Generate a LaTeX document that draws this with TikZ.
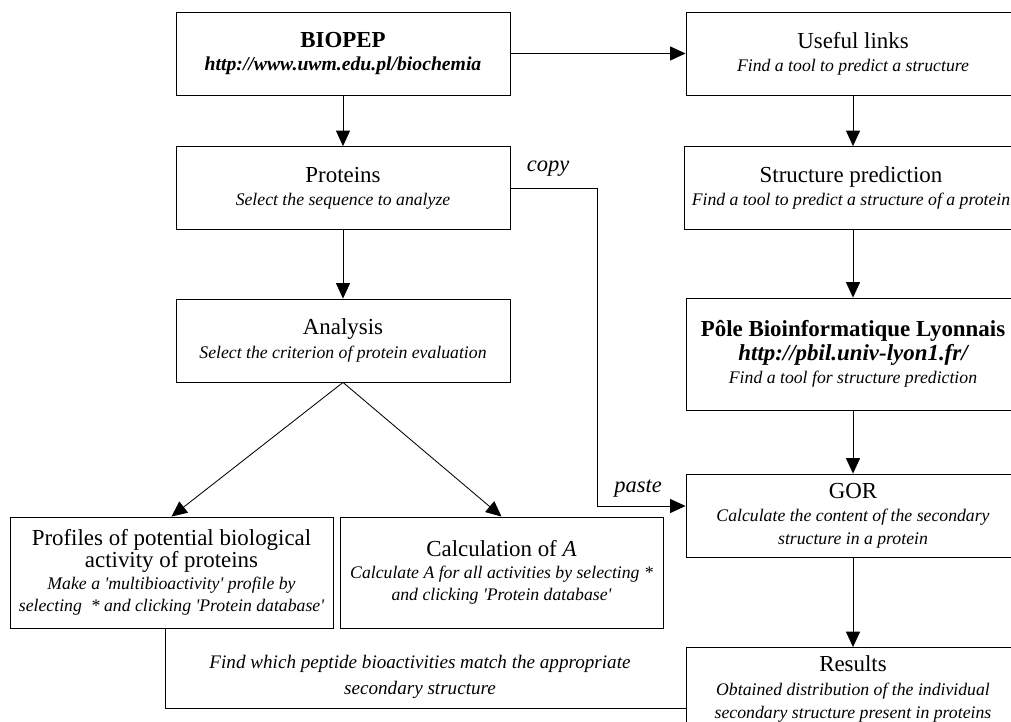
\documentclass[tikz,border=0pt]{standalone}
\usepackage{fontspec}
\setmainfont{Liberation Serif}
\usetikzlibrary{arrows.meta}
\newcommand*{\Head}[1]{{\fontsize{16.3}{19}\selectfont #1}}
\newcommand*{\Note}[1]{{\fontsize{12.6}{14}\selectfont\itshape #1}}
\tikzset{
  box/.style={draw, line width=0.6pt, align=center, minimum width=8.35cm,
    minimum height=2.075cm, inner sep=2pt, font=\fontsize{12}{16.5}\selectfont},
  tall/.style={box, minimum height=2.8cm},
  half/.style={box, minimum width=8.075cm, minimum height=2.775cm,
    font=\fontsize{12}{15.5}\selectfont},
  flow/.style={-{Triangle[length=11pt,width=10pt]}, line width=0.6pt},
  tag/.style={font=\fontsize{16}{19}\selectfont\itshape}
}

\begin{document}
\begin{tikzpicture}[x=0.025cm, y=-0.025cm]
  \useasboundingbox (0,0) rectangle (1011,722);
  \clip (0,0) rectangle (1011,722);
  % left column
  \node[box] (biopep) at (343,53.5) {\Head{\textbf{BIOPEP}}\\
    {\fontsize{14}{16}\selectfont\bfseries\itshape http://www.uwm.edu.pl/biochemia}};
  \node[box] (proteins) at (343,188) {\Head{Proteins}\\ \Note{Select the sequence to analyze}};
  \node[box] (analysis) at (343,340.5) {\Head{Analysis}\\ \Note{Select the criterion of protein evaluation}};
  \node[half] (profiles) at (171.5,572.5) {\Head{Profiles of potential biological}\\
    \Head{activity of proteins}\\
    \Note{Make a \textquotesingle multibioactivity\textquotesingle\ profile by}\\
    \Note{selecting~ * and clicking \textquotesingle Protein database\textquotesingle}};
  \node[half] (calc) at (501.5,572.5) {\Head{Calculation of \textit{A}}\\
    \Note{Calculate A for all activities by selecting *}\\
    \Note{and clicking \textquotesingle Protein database\textquotesingle}};
  % right column
  \node[box] (useful) at (853,53.5) {\Head{Useful links}\\ \Note{Find a tool to predict a structure}};
  \node[box] (predict) at (851,188) {\Head{Structure prediction}\\
    \Note{Find a tool to predict a structure of a protein}};
  \node[tall] (pbil) at (853,354) {\Head{\textbf{Pôle Bioinformatique Lyonnais}}\\
    \Head{\bfseries\itshape http://pbil.univ-lyon1.fr/}\\
    \Note{Find a tool for structure prediction}};
  \node[box] (gor) at (853,515.5) {\Head{GOR}\\ \Note{Calculate the content of the secondary}\\
    \Note{structure in a protein}};
  \node[box] (results) at (853,689) {\Head{Results}\\
    \Note{Obtained distribution of the individual}\\
    \Note{secondary structure present in proteins}};
  % connectors
  \draw[flow] (biopep) -- (useful);
  \draw[flow] (biopep) -- (proteins);
  \draw[flow] (proteins) -- (analysis);
  \draw[flow] (analysis.south) -- (profiles.north);
  \draw[flow] (analysis.south) -- (calc.north);
  \draw[flow] (useful) -- (predict.north -| useful.south);
  \draw[flow] (predict.south -| useful.south) -- (pbil);
  \draw[flow] (pbil) -- (gor);
  \draw[flow] (gor) -- (results);
  \coordinate (bend) at (597,506);
  \draw[flow] (proteins.east) -| (bend) -- (bend -| gor.west);
  \node[tag] (copy) at (548,169) {copy};
  \node[tag] (paste) at (638,489) {paste};
  \coordinate (foot) at (165,708);
  \draw[line width=0.6pt] (profiles.south -| foot) -- (foot) -- (foot -| results.west);
  \node[align=center, font=\fontsize{13.6}{19}\selectfont\itshape] (match) at (420,677)
    {Find which peptide bioactivities match the appropriate\\ secondary structure};
\end{tikzpicture}
\end{document}
